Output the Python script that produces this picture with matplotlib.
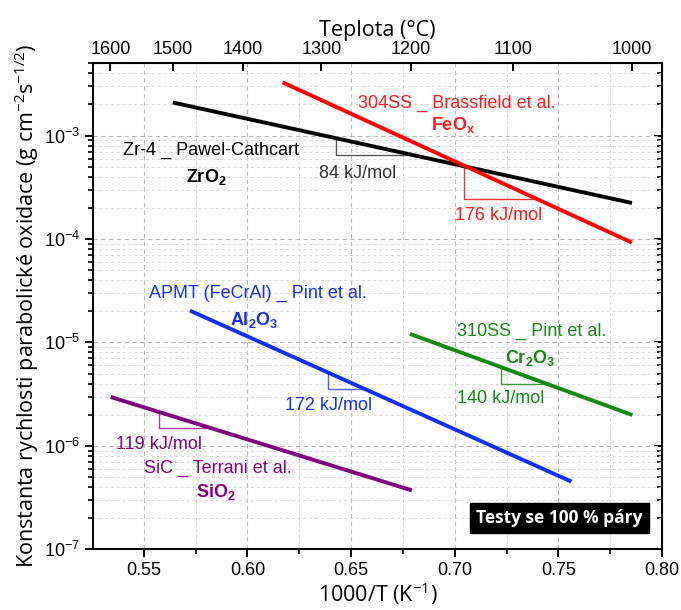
import numpy as np
import matplotlib
matplotlib.use("Agg")
import matplotlib.pyplot as plt
from matplotlib.ticker import MultipleLocator, LogLocator, NullFormatter

plt.rcParams["font.family"] = ["Liberation Sans", "DejaVu Sans"]
plt.rcParams["mathtext.default"] = "regular"

# Arrhenius lines: 1000/T range, rate constant at the hot end, activation energy (kJ/mol)
zr4_x, zr4_k0, zr4_q = [0.564, 0.7855], 2.09e-3, 84
ss304_x, ss304_k0, ss304_q = [0.617, 0.7855], 3.27e-3, 176
apmt_x, apmt_k0, apmt_q = [0.5723, 0.7563], 2.03e-5, 172
ss310_x, ss310_k0, ss310_q = [0.6784, 0.7857], 1.21e-5, 140
sic_x, sic_k0, sic_q = [0.534, 0.6793], 2.97e-6, 119

# slope triangles (1000/T at the two corners on each line)
zr4_tri = [0.6426, 0.6801]
ss304_tri = [0.7045, 0.7396]
apmt_tri = [0.6388, 0.6561]
ss310_tri = [0.7221, 0.7444]
sic_tri = [0.5575, 0.5816]

temp_ticks = [1600, 1500, 1400, 1300, 1200, 1100, 1000]

R = 8.314


def arrhenius(x, x0, k0, q):
    # k ~ exp(-Q/RT); x is 1000/T, Q in kJ/mol
    x = np.asarray(x, dtype=float)
    return k0 * np.exp(-q * (x - x0) / R)


fig = plt.figure(figsize=(6.81, 6.10), dpi=100)
ax = fig.add_axes([93 / 681, 1 - 549.3 / 610, (662 - 93) / 681, (549.3 - 63.3) / 610])

series = [
    (zr4_x, zr4_k0, zr4_q, zr4_tri, "#000000", "#555555"),
    (ss304_x, ss304_k0, ss304_q, ss304_tri, "#ff0000", "#ff3030"),
    (apmt_x, apmt_k0, apmt_q, apmt_tri, "#1030ff", "#5060ff"),
    (ss310_x, ss310_k0, ss310_q, ss310_tri, "#138a13", "#3a9a3a"),
    (sic_x, sic_k0, sic_q, sic_tri, "#800080", "#a040a0"),
]

for xs, k0, q, tri, col, tcol in series:
    ks = arrhenius(xs, xs[0], k0, q)
    ax.plot(xs, ks, color=col, lw=2.8, solid_capstyle="butt", zorder=4)
    ka, kb = arrhenius(tri, xs[0], k0, q)
    ax.plot([tri[0], tri[0], tri[1]], [ka, kb, kb], color=tcol, lw=1.0, zorder=3)

ax.set_yscale("log")
ax.set_xlim(0.5255, 0.80)
ax.set_ylim(1e-7, 5e-3)

ax.xaxis.set_major_locator(MultipleLocator(0.05))
ax.xaxis.set_minor_locator(MultipleLocator(0.025))
ax.xaxis.set_major_formatter(matplotlib.ticker.FormatStrFormatter("%.2f"))
ax.yaxis.set_major_locator(LogLocator(base=10, numticks=12))
ax.yaxis.set_minor_locator(LogLocator(base=10, subs=np.arange(2, 10), numticks=12))
ax.yaxis.set_minor_formatter(NullFormatter())

ax.tick_params(which="major", direction="out", length=6, width=1.4, labelsize=13)
ax.tick_params(which="minor", direction="out", length=3.5, width=1.2)
ax.tick_params(top=False, right=False)

ax.grid(True, which="major", ls=(0, (4, 3)), color="#b8b8b8", lw=0.8)
ax.grid(True, which="minor", ls=(0, (3, 3)), color="#d8d8d8", lw=0.7)
ax.set_axisbelow(True)
for sp in ax.spines.values():
    sp.set_linewidth(1.4)

# temperature axis on top
top = ax.secondary_xaxis("top", functions=(lambda x: 1000.0 / np.asarray(x) - 273.15,
                                           lambda t: 1000.0 / (np.asarray(t) + 273.15)))
top.set_xticks(temp_ticks)
top.set_xticklabels([str(t) for t in temp_ticks])
top.xaxis.set_minor_locator(matplotlib.ticker.NullLocator())
top.tick_params(direction="in", length=6, width=1.4, labelsize=13)
top.set_xlabel("Teplota (°C)", family="Open Sans", fontsize=15.5, labelpad=4)

right = ax.secondary_yaxis("right")
right.tick_params(which="major", direction="in", length=6, width=1.4, labelright=False)
right.tick_params(which="minor", direction="in", length=3.5, width=1.2)

ax.set_xlabel("1000/T (K$^{-1}$)", family="Open Sans", fontsize=15.5, labelpad=1)
ax.set_ylabel("Konstanta rychlosti parabolické oxidace (g cm$^{-2}$s$^{-1/2}$)",
              family="Open Sans", fontsize=15.5, labelpad=2)

fs = 13
ax.text(0.701, 10**-2.685, "304SS _ Brassfield et al.", color="#ff1a1a", fontsize=fs,
        ha="center", va="center")
ax.text(0.699, 10**-2.896, "FeO$_x$", color="#ff1a1a", fontsize=fs, fontweight="bold",
        ha="center", va="center")
ax.text(0.5823, 10**-3.139, "Zr-4 _ Pawel-Cathcart", color="#000000", fontsize=fs,
        ha="center", va="center")
ax.text(0.5804, 10**-3.398, "ZrO$_2$", color="#000000", fontsize=fs, fontweight="bold",
        ha="center", va="center")
ax.text(0.6533, 10**-3.363, "84 kJ/mol", color="#333333", fontsize=fs, ha="center", va="center")
ax.text(0.7214, 10**-3.771, "176 kJ/mol", color="#ff1a1a", fontsize=fs, ha="center", va="center")

ax.text(0.6049, 10**-4.530, "APMT (FeCrAl) _ Pint et al.", color="#1030ff", fontsize=fs,
        ha="center", va="center")
ax.text(0.6035, 10**-4.782, "Al$_2$O$_3$", color="#1030ff", fontsize=fs, fontweight="bold",
        ha="center", va="center")
ax.text(0.6393, 10**-5.608, "172 kJ/mol", color="#1030ff", fontsize=fs, ha="center", va="center")

ax.text(0.7372, 10**-4.896, "310SS _ Pint et al.", color="#138a13", fontsize=fs,
        ha="center", va="center")
ax.text(0.7363, 10**-5.146, "Cr$_2$O$_3$", color="#138a13", fontsize=fs, fontweight="bold",
        ha="center", va="center")
ax.text(0.7224, 10**-5.540, "140 kJ/mol", color="#138a13", fontsize=fs, ha="center", va="center")

ax.text(0.5857, 10**-6.221, "SiC _ Terrani et al.", color="#800080", fontsize=fs,
        ha="center", va="center")
ax.text(0.5848, 10**-6.448, "SiO$_2$", color="#800080", fontsize=fs, fontweight="bold",
        ha="center", va="center")
ax.text(0.5575, 10**-5.987, "119 kJ/mol", color="#800080", fontsize=fs, ha="center", va="center")

ax.text(0.82, 0.064, "Testy se 100 % páry", transform=ax.transAxes, family="Open Sans",
        fontsize=12.5, fontweight="bold", color="white", ha="center", va="center",
        bbox=dict(boxstyle="square,pad=0.35", fc="black", ec="black"), zorder=6)

fig.savefig("out.png", dpi=100)
